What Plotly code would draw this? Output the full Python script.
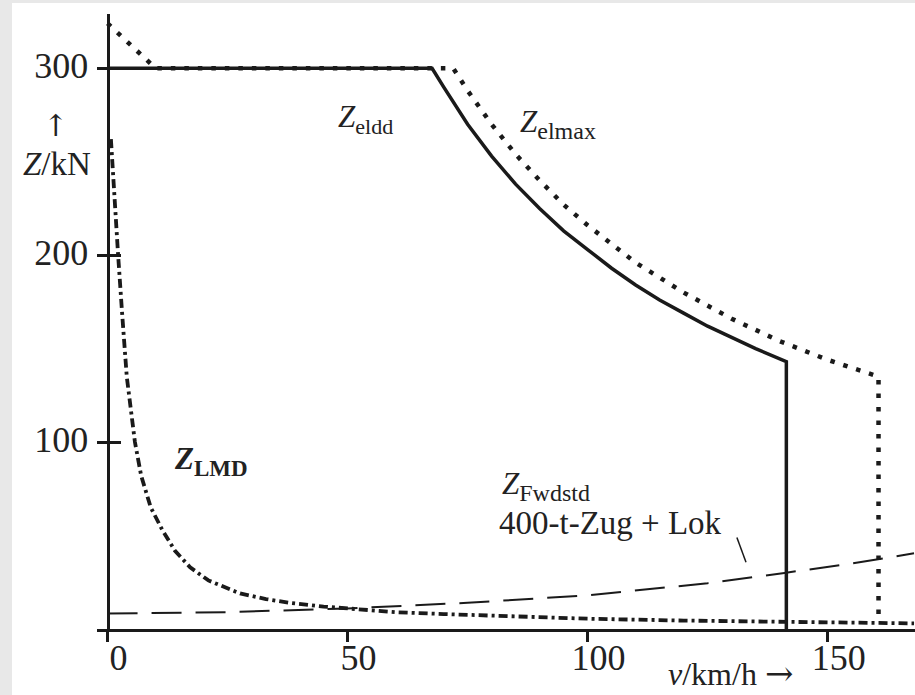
import plotly.graph_objects as go

# ---- data ----
v_eldd = [0, 67.6, 70, 75, 80, 85, 90, 95, 100, 105, 110, 115, 120, 125, 130, 135, 141.4, 141.4]
z_eldd = [300, 300, 290, 270, 253, 238, 225, 213, 203, 193, 184, 176, 169, 162, 156, 150, 143, 0]

v_elmax = [0, 10, 72, 75, 80, 85, 90, 95, 100, 110, 120, 130, 140, 150, 160.6, 160.6]
z_elmax = [324, 300, 300, 288, 270, 254, 240, 227, 216, 196, 180, 166, 154, 144, 135, 4]

v_lmd = [0.7, 1.2, 2.2, 3, 4, 5.7, 7, 9, 11.4, 14, 17.2, 21, 27.6, 33, 38, 45, 50, 60, 70, 80, 90, 100, 120, 140, 168]
z_lmd = [262, 240, 200, 170, 135, 100, 82, 65, 53, 42, 33, 26, 19, 16, 14, 12, 11, 9, 8, 7, 6.3, 5.5, 4.5, 3.8, 3]

v_fwd = [0, 25, 50, 75, 100, 125, 141, 155, 168]
z_fwd = [8.3, 9, 11, 14, 18, 24.5, 30, 35, 40.5]

x_ticks = [0, 50, 100, 150]
y_ticks = [100, 200, 300]

FONT = "Liberation Serif, Times New Roman, serif"
ARROWFONT = "DejaVu Serif, serif"
INK = "#1a1a1a"
TXT = "#222"

fig = go.Figure()
fig.add_trace(go.Scatter(x=v_fwd, y=z_fwd, mode="lines",
                         line=dict(color=INK, width=2, dash="30px,14px"), hoverinfo="skip"))
fig.add_trace(go.Scatter(x=v_lmd, y=z_lmd, mode="lines",
                         line=dict(color=INK, width=3.8, dash="9px,4px,3px,4px"), hoverinfo="skip"))
fig.add_trace(go.Scatter(x=v_elmax, y=z_elmax, mode="lines",
                         line=dict(color=INK, width=4.5, dash="4.5px,9px"), hoverinfo="skip"))
fig.add_trace(go.Scatter(x=v_eldd, y=z_eldd, mode="lines",
                         line=dict(color=INK, width=3.5), hoverinfo="skip"))
# invisible trace to host the inner tick axis
fig.add_trace(go.Scatter(x=v_eldd, y=z_eldd, mode="lines", yaxis="y2",
                         line=dict(width=0), opacity=0, hoverinfo="skip"))

ypos = (107.5 - 97) / 818

fig.update_layout(
    width=915, height=695,
    margin=dict(l=97, r=0, t=14, b=66, autoexpand=False),
    paper_bgcolor="#e8e8e8",
    plot_bgcolor="white",
    showlegend=False,
    xaxis=dict(range=[-2.2, 168.2], showline=True, linewidth=3, linecolor=INK,
               ticks="outside", ticklen=10, tickwidth=2.5, tickcolor=INK,
               tickvals=x_ticks, ticktext=[str(t) for t in x_ticks],
               showgrid=False, zeroline=False, automargin=False,
               tickfont=dict(family=FONT, size=36, color=TXT),
               ticklabelshift=11, ticklabelstandoff=-15),
    yaxis=dict(range=[0, 329], anchor="free", position=ypos,
               showline=True, linewidth=3, linecolor=INK,
               ticks="outside", ticklen=10, tickwidth=2.5, tickcolor=INK,
               tickvals=y_ticks, ticktext=[str(t) for t in y_ticks],
               showgrid=False, zeroline=False, automargin=False,
               tickfont=dict(family=FONT, size=36, color=TXT),
               ticklabelstandoff=1, ticklabelshift=-3),
    yaxis2=dict(range=[0, 329], overlaying="y", anchor="free", position=ypos,
                side="left", showline=False, ticks="inside", ticklen=12,
                tickwidth=2.5, tickcolor=INK, tickvals=y_ticks, automargin=False,
                showticklabels=False, showgrid=False, zeroline=False),
)

# white page area (gray border strips at left/top)
fig.add_shape(type="rect", xref="paper", yref="paper",
              x0=(12 - 97) / 818, x1=1.01, y0=-0.12, y1=(629 - 3) / 615,
              fillcolor="white", line=dict(width=0), layer="below")

# leader line for train resistance label
fig.add_shape(type="line", xref="x", yref="y", x0=131.1, y0=49, x1=133, y1=35.7,
              line=dict(color=INK, width=1.5))

def ann(text, x, y, size=31, xanchor="left", xref="x", yref="y", yanchor="middle", family=FONT):
    fig.add_annotation(text=text, x=x, y=y, xref=xref, yref=yref, showarrow=False,
                       xanchor=xanchor, yanchor=yanchor,
                       font=dict(family=family, size=size, color=TXT))

def sub(s, size=23):
    return f"<sub><span style='font-size:{size}px'>{s}</span></sub>"

ann("<i>Z</i>" + sub("eldd", 22), 47.6, 273)
ann("<i>Z</i>" + sub("elmax", 24), 85.5, 270)
ann("<b><i>Z</i>" + sub("LMD", 23) + "</b>", 13.4, 90)
ann("<i>Z</i>" + sub("Fwdstd", 24), 81.8, 76.5)
ann("400-t-Zug + Lok", 81.2, 56.5, size=33)
ann("↑", (55 - 97) / 818, (629 - 125) / 615, xref="paper", yref="paper", xanchor="center",
    size=30, family=ARROWFONT)
ann("<i>Z</i>/kN", (57 - 97) / 818, (629 - 164) / 615, xref="paper", yref="paper",
    xanchor="center", size=33)
ann("<i>v</i>/km/h <span style='font-family:DejaVu Serif;font-size:34px'>→</span>",
    (730 - 97) / 818, (629 - 673) / 615, xref="paper", yref="paper",
    xanchor="center", size=32)

fig.write_html("out.html", config={"displayModeBar": False},
               post_script="document.body.style.margin='0';")
